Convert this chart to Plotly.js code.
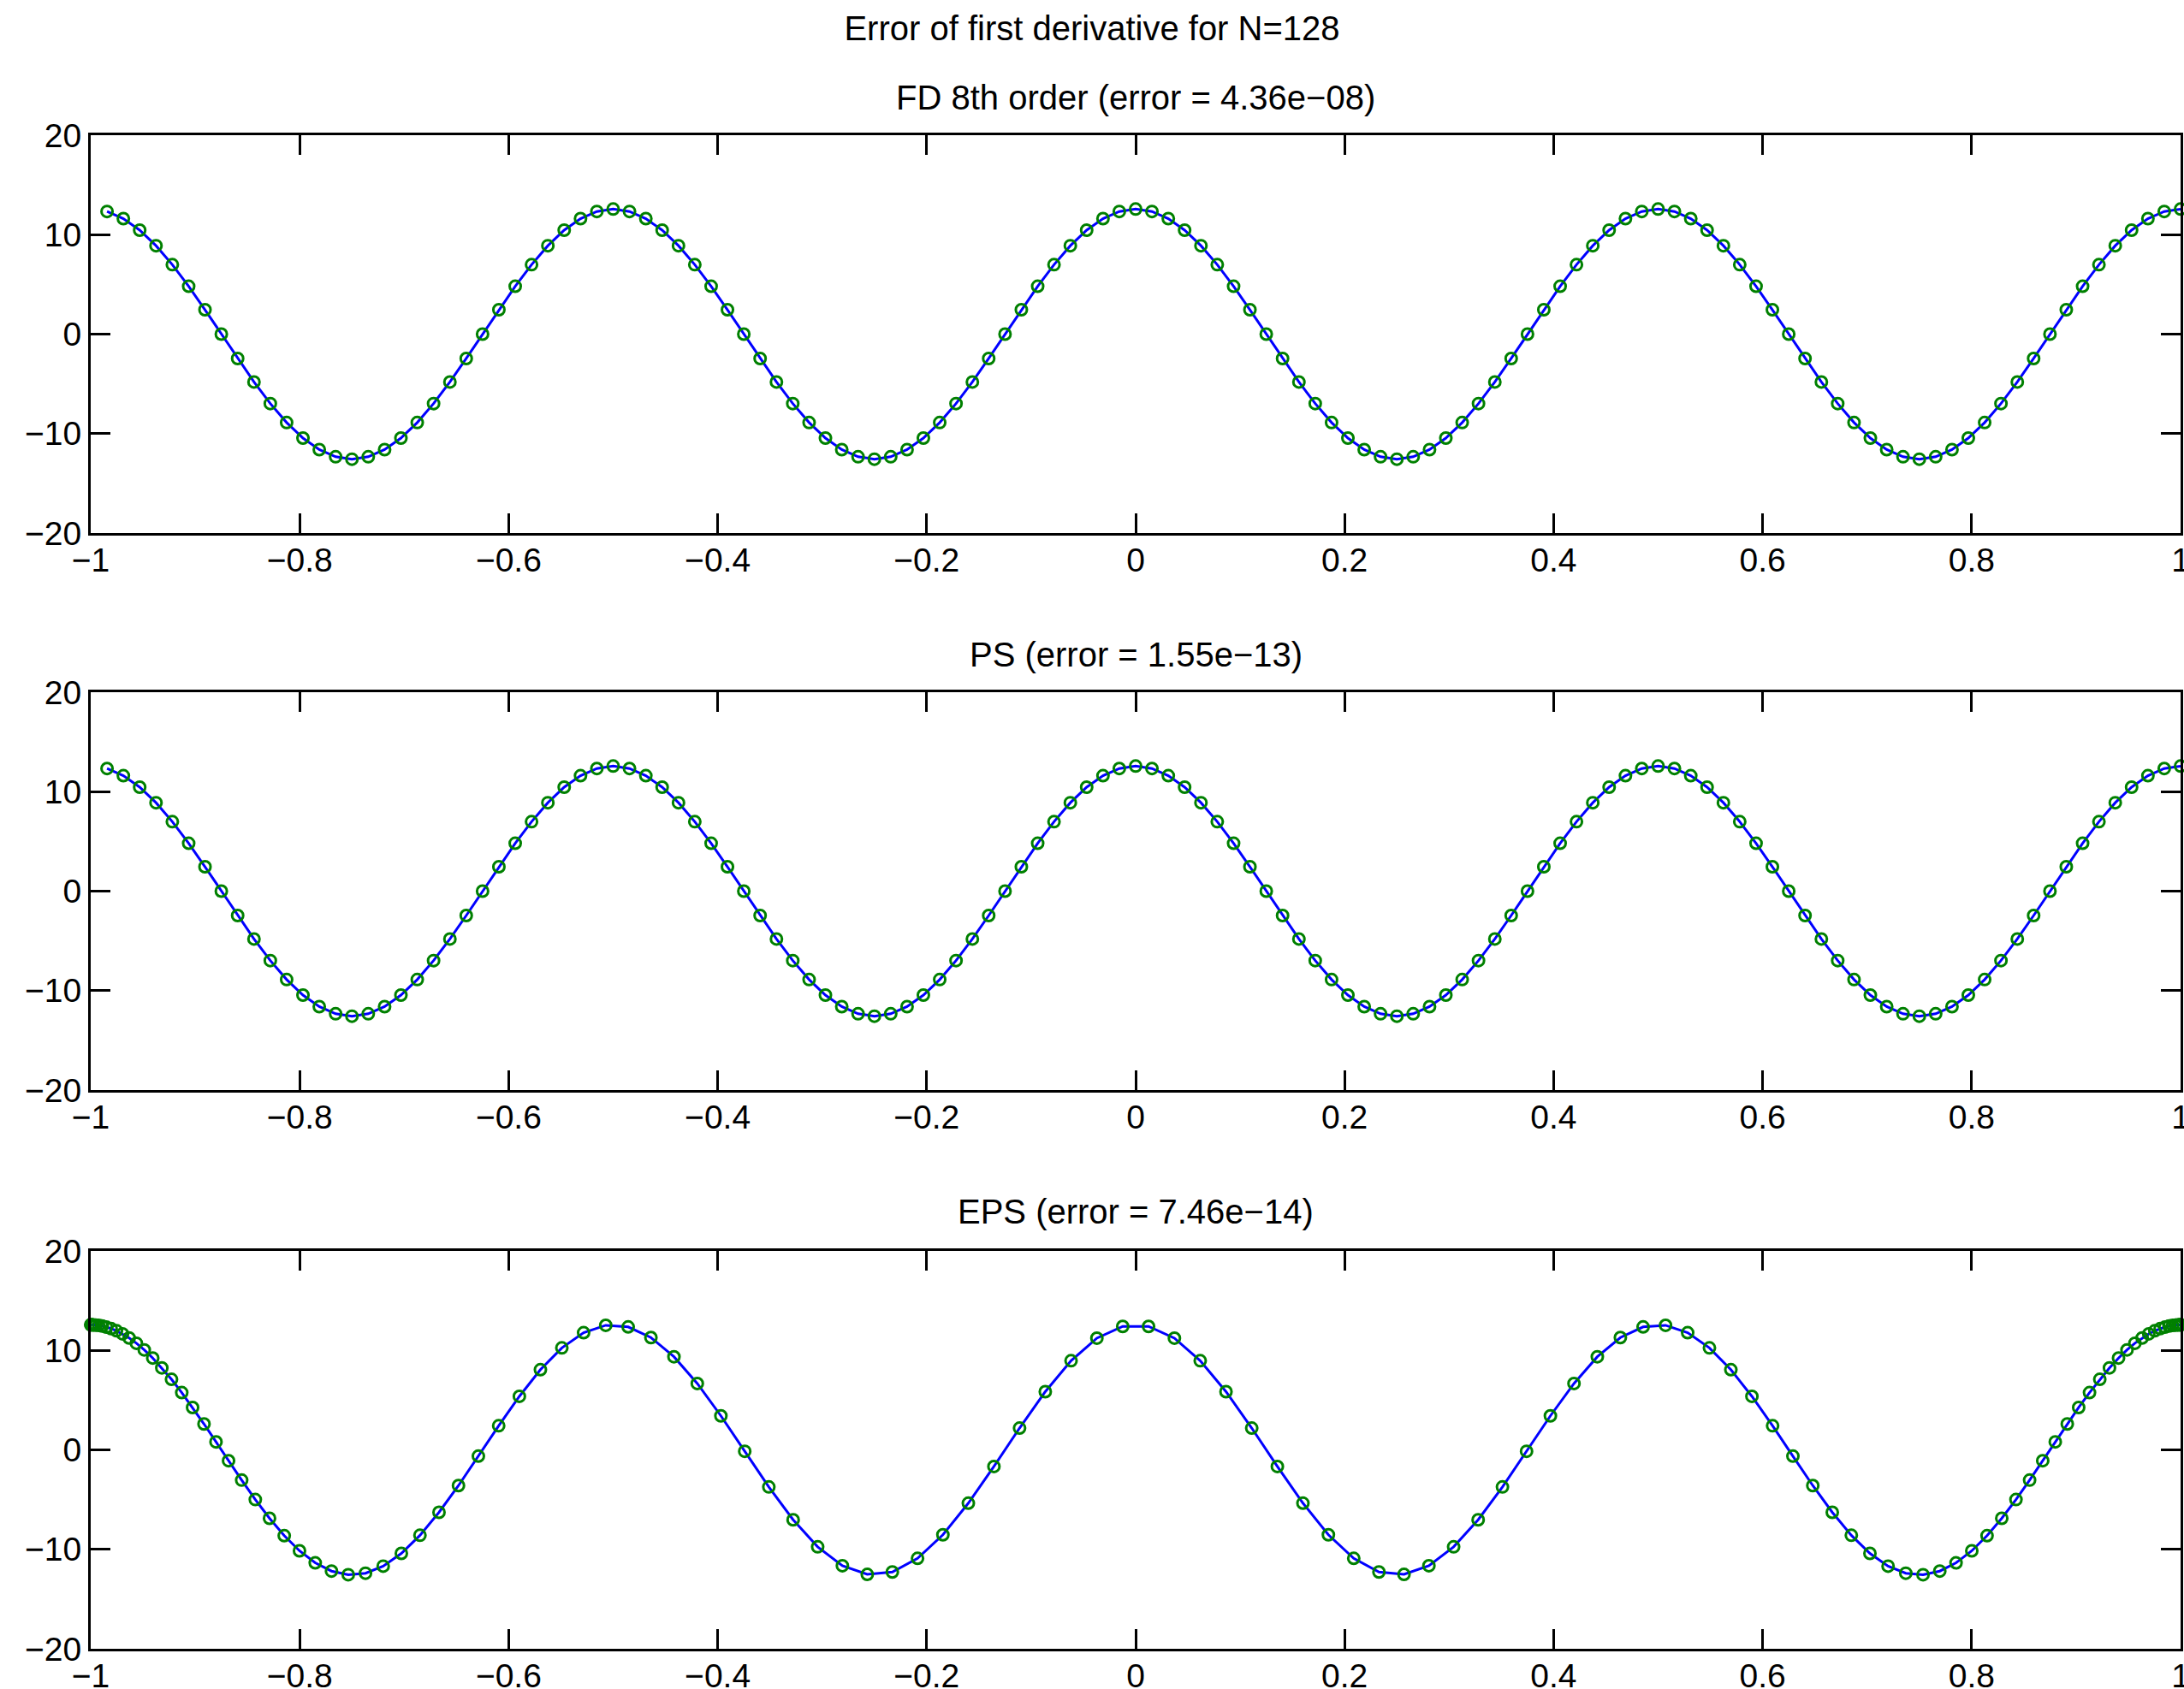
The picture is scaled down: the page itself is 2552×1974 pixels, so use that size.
<!DOCTYPE html>
<html>
<head>
<meta charset="utf-8">
<script src="https://cdn.plot.ly/plotly-3.0.1.min.js"></script>
<style>html,body{margin:0;padding:0;background:#fff;}#chart{width:2552px;height:1974px;}</style>
</head>
<body>
<div id="chart"></div>
<script>
// ---- data ----
const mainTitle = "Error of first derivative for N=128";
const panelTitles = ["FD 8th order (error = 4.36e\u221208)", "PS (error = 1.55e\u221213)", "EPS (error = 7.46e\u221214)"];

// periodic grid (FD and PS panels)
const xGrid = [-0.984375,-0.96875,-0.953125,-0.9375,-0.921875,-0.90625,-0.890625,-0.875,-0.859375,-0.84375,-0.828125,-0.8125,-0.796875,-0.78125,-0.765625,-0.75,
-0.734375,-0.71875,-0.703125,-0.6875,-0.671875,-0.65625,-0.640625,-0.625,-0.609375,-0.59375,-0.578125,-0.5625,-0.546875,-0.53125,-0.515625,-0.5,
-0.484375,-0.46875,-0.453125,-0.4375,-0.421875,-0.40625,-0.390625,-0.375,-0.359375,-0.34375,-0.328125,-0.3125,-0.296875,-0.28125,-0.265625,-0.25,
-0.234375,-0.21875,-0.203125,-0.1875,-0.171875,-0.15625,-0.140625,-0.125,-0.109375,-0.09375,-0.078125,-0.0625,-0.046875,-0.03125,-0.015625,0,
0.015625,0.03125,0.046875,0.0625,0.078125,0.09375,0.109375,0.125,0.140625,0.15625,0.171875,0.1875,0.203125,0.21875,0.234375,0.25,
0.265625,0.28125,0.296875,0.3125,0.328125,0.34375,0.359375,0.375,0.390625,0.40625,0.421875,0.4375,0.453125,0.46875,0.484375,0.5,
0.515625,0.53125,0.546875,0.5625,0.578125,0.59375,0.609375,0.625,0.640625,0.65625,0.671875,0.6875,0.703125,0.71875,0.734375,0.75,
0.765625,0.78125,0.796875,0.8125,0.828125,0.84375,0.859375,0.875,0.890625,0.90625,0.921875,0.9375,0.953125,0.96875,0.984375,1];

const yFD = [12.33,11.61,10.45,8.89,6.98,4.81,2.45,0,-2.45,-4.81,-6.98,-8.89,-10.45,-11.61,-12.33,-12.57,-12.33,-11.61,-10.45,-8.89,-6.98,-4.81,-2.45,0,2.45,4.81,6.98,8.89,10.45,11.61,12.33,12.57,
12.33,11.61,10.45,8.89,6.98,4.81,2.45,0,-2.45,-4.81,-6.98,-8.89,-10.45,-11.61,-12.33,-12.57,-12.33,-11.61,-10.45,-8.89,-6.98,-4.81,-2.45,0,2.45,4.81,6.98,8.89,10.45,11.61,12.33,12.57,
12.33,11.61,10.45,8.89,6.98,4.81,2.45,0,-2.45,-4.81,-6.98,-8.89,-10.45,-11.61,-12.33,-12.57,-12.33,-11.61,-10.45,-8.89,-6.98,-4.81,-2.45,0,2.45,4.81,6.98,8.89,10.45,11.61,12.33,12.57,
12.33,11.61,10.45,8.89,6.98,4.81,2.45,0,-2.45,-4.81,-6.98,-8.89,-10.45,-11.61,-12.33,-12.57,-12.33,-11.61,-10.45,-8.89,-6.98,-4.81,-2.45,0,2.45,4.81,6.98,8.89,10.45,11.61,12.33,12.57];

const yPS = [12.33,11.61,10.45,8.89,6.98,4.81,2.45,0,-2.45,-4.81,-6.98,-8.89,-10.45,-11.61,-12.33,-12.57,-12.33,-11.61,-10.45,-8.89,-6.98,-4.81,-2.45,0,2.45,4.81,6.98,8.89,10.45,11.61,12.33,12.57,
12.33,11.61,10.45,8.89,6.98,4.81,2.45,0,-2.45,-4.81,-6.98,-8.89,-10.45,-11.61,-12.33,-12.57,-12.33,-11.61,-10.45,-8.89,-6.98,-4.81,-2.45,0,2.45,4.81,6.98,8.89,10.45,11.61,12.33,12.57,
12.33,11.61,10.45,8.89,6.98,4.81,2.45,0,-2.45,-4.81,-6.98,-8.89,-10.45,-11.61,-12.33,-12.57,-12.33,-11.61,-10.45,-8.89,-6.98,-4.81,-2.45,0,2.45,4.81,6.98,8.89,10.45,11.61,12.33,12.57,
12.33,11.61,10.45,8.89,6.98,4.81,2.45,0,-2.45,-4.81,-6.98,-8.89,-10.45,-11.61,-12.33,-12.57,-12.33,-11.61,-10.45,-8.89,-6.98,-4.81,-2.45,0,2.45,4.81,6.98,8.89,10.45,11.61,12.33,12.57];

// Chebyshev-type nodes (EPS panel)
const xEPS = [-1,-0.99969,-0.99878,-0.99725,-0.99511,-0.99236,-0.98901,-0.98505,-0.98048,-0.97532,-0.96956,-0.96321,-0.95627,-0.94874,-0.94063,-0.93195,
-0.92269,-0.91287,-0.9025,-0.89157,-0.88009,-0.86808,-0.85553,-0.84247,-0.82888,-0.81479,-0.8002,-0.78513,-0.76957,-0.75354,-0.73704,-0.7201,
-0.70272,-0.68491,-0.66668,-0.64804,-0.629,-0.60958,-0.58978,-0.56963,-0.54913,-0.52829,-0.50712,-0.48565,-0.46388,-0.44183,-0.4195,-0.39692,
-0.3741,-0.35104,-0.32778,-0.30431,-0.28065,-0.25683,-0.23284,-0.20872,-0.18446,-0.1601,-0.13563,-0.11109,-0.08647,-0.0618,-0.0371,-0.01237,
0.01237,0.0371,0.0618,0.08647,0.11109,0.13563,0.1601,0.18446,0.20872,0.23284,0.25683,0.28065,0.30431,0.32778,0.35104,0.3741,
0.39692,0.4195,0.44183,0.46388,0.48565,0.50712,0.52829,0.54913,0.56963,0.58978,0.60958,0.629,0.64804,0.66668,0.68491,0.70272,
0.7201,0.73704,0.75354,0.76957,0.78513,0.8002,0.81479,0.82888,0.84247,0.85553,0.86808,0.88009,0.89157,0.9025,0.91287,0.92269,
0.93195,0.94063,0.94874,0.95627,0.96321,0.96956,0.97532,0.98048,0.98505,0.98901,0.99236,0.99511,0.99725,0.99878,0.99969,1];

const yEPS = [12.57,12.57,12.56,12.56,12.54,12.51,12.45,12.34,12.19,11.97,11.66,11.25,10.72,10.05,9.23,8.24,
7.09,5.76,4.26,2.60,0.80,-1.09,-3.04,-5.00,-6.88,-8.63,-10.15,-11.36,-12.19,-12.55,-12.40,-11.69,
-10.41,-8.59,-6.28,-3.59,-0.63,2.42,5.38,8.06,10.25,11.78,12.52,12.36,11.29,9.36,6.67,3.42,
-0.14,-3.73,-7.03,-9.75,-11.65,-12.52,-12.28,-10.91,-8.54,-5.36,-1.67,2.19,5.85,8.96,11.23,12.41,
12.41,11.23,8.96,5.85,2.19,-1.67,-5.36,-8.54,-10.91,-12.28,-12.52,-11.65,-9.75,-7.03,-3.73,-0.14,
3.42,6.67,9.36,11.29,12.36,12.52,11.78,10.25,8.06,5.38,2.42,-0.63,-3.59,-6.28,-8.59,-10.41,
-11.69,-12.40,-12.55,-12.19,-11.36,-10.15,-8.63,-6.88,-5.00,-3.04,-1.09,0.80,2.60,4.26,5.76,7.09,
8.24,9.23,10.05,10.72,11.25,11.66,11.97,12.19,12.34,12.45,12.51,12.54,12.56,12.56,12.57,12.57];

const xTicks = [-1,-0.8,-0.6,-0.4,-0.2,0,0.2,0.4,0.6,0.8,1];
const yTicks = [-20,-10,0,10,20];

// ---- styling ----
const FONT = '"Liberation Sans", Arial, Helvetica, sans-serif';
const lineStyle = {color:'#0000ff', width:3};
const markerStyle = {symbol:'circle-open', size:13, color:'#008000', line:{width:3, color:'#008000'}};

const panels = [
  {x:xGrid, y:yFD},
  {x:xGrid, y:yPS},
  {x:xEPS, y:yEPS}
];

const traces = [];
panels.forEach((p, i) => {
  const xa = i === 0 ? 'x' : 'x' + (i + 1);
  const ya = i === 0 ? 'y' : 'y' + (i + 1);
  traces.push({x:p.x, y:p.y, xaxis:xa, yaxis:ya, type:'scatter', mode:'lines', line:lineStyle, hoverinfo:'skip', cliponaxis:false});
  traces.push({x:p.x, y:p.y, xaxis:xa, yaxis:ya, type:'scatter', mode:'markers', marker:markerStyle, hoverinfo:'skip', cliponaxis:false});
});

function xAxis(anchor){
  return {anchor:anchor, domain:[0,1], range:[-1,1], tickmode:'array', tickvals:xTicks,
    ticks:'inside', ticklen:23, tickwidth:3, tickcolor:'#000', showline:true, linewidth:3, linecolor:'#000',
    mirror:'ticks', showgrid:false, zeroline:false, tickfont:{family:FONT, size:39, color:'#000'},
    ticklabeloverflow:'allow', ticklabelstandoff:-5, automargin:false};
}
function yAxis(anchor, dom){
  return {anchor:anchor, domain:dom, range:[-20,20], tickmode:'array', tickvals:yTicks,
    ticks:'inside', ticklen:23, tickwidth:3, tickcolor:'#000', showline:true, linewidth:3, linecolor:'#000',
    mirror:'ticks', showgrid:false, zeroline:false, tickfont:{family:FONT, size:39, color:'#000'},
    ticklabeloverflow:'allow', automargin:false};
}

const layout = {
  width:2552, height:1974,
  paper_bgcolor:'#ffffff', plot_bgcolor:'#ffffff',
  showlegend:false,
  font:{family:FONT, color:'#000'},
  margin:{l:106, r:4, t:158, b:47, pad:0},
  title:{text:mainTitle, x:0.5, xref:'container', xanchor:'center', y:0.9833, yref:'container', yanchor:'middle', font:{family:FONT, size:40, color:'#000'}},
  xaxis:xAxis('y'), yaxis:yAxis('x', [0.73714, 1]),
  xaxis2:xAxis('y2'), yaxis2:yAxis('x2', [0.36913, 0.63200]),
  xaxis3:xAxis('y3'), yaxis3:yAxis('x3', [0, 0.26286]),
  annotations:[
    {text:panelTitles[0], xref:'paper', yref:'paper', x:0.5, y:1.02487, xanchor:'center', yanchor:'middle', showarrow:false, font:{family:FONT, size:40, color:'#000'}},
    {text:panelTitles[1], xref:'paper', yref:'paper', x:0.5, y:0.65687, xanchor:'center', yanchor:'middle', showarrow:false, font:{family:FONT, size:40, color:'#000'}},
    {text:panelTitles[2], xref:'paper', yref:'paper', x:0.5, y:0.28886, xanchor:'center', yanchor:'middle', showarrow:false, font:{family:FONT, size:40, color:'#000'}}
  ]
};

Plotly.newPlot('chart', traces, layout, {staticPlot:true, displayModeBar:false});
</script>
</body>
</html>
